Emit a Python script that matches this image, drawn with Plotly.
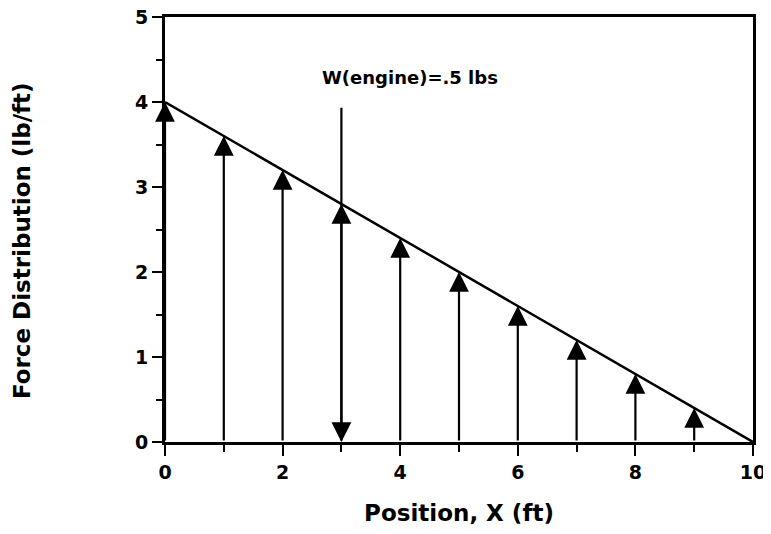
import plotly.graph_objects as go

# distributed lift along the wing, lb/ft
positions = [0, 1, 2, 3, 4, 5, 6, 7, 8, 9]
forces = [4.0, 3.6, 3.2, 2.8, 2.4, 2.0, 1.6, 1.2, 0.8, 0.4]
line_x = [0, 10]
line_y = [4, 0]

# engine weight point load
engine_x = 3
engine_top = 3.95
engine_label = "W(engine)=.5 lbs"
label_x = 4.17
label_y = 4.29

fig = go.Figure()

fig.add_trace(go.Scatter(
    x=line_x, y=line_y, mode="lines",
    line=dict(color="black", width=2.5),
    showlegend=False, hoverinfo="skip",
))

# upward force arrows
for px, f in zip(positions, forces):
    fig.add_annotation(
        x=px, y=f, ax=px, ay=0,
        xref="x", yref="y", axref="x", ayref="y",
        showarrow=True, arrowhead=2, arrowsize=1.8, arrowwidth=2.2,
        arrowcolor="black", text="",
    )

# engine weight arrow (pointing down)
fig.add_annotation(
    x=engine_x, y=0, ax=engine_x, ay=engine_top,
    xref="x", yref="y", axref="x", ayref="y",
    showarrow=True, arrowhead=2, arrowsize=1.8, arrowwidth=2.2,
    arrowcolor="black", text="",
)
fig.add_annotation(
    x=label_x, y=label_y, xref="x", yref="y",
    text="<b>" + engine_label + "</b>", showarrow=False,
    font=dict(family="DejaVu Sans", size=18, color="black"),
)

# y title placed by hand (sits a little below the plot centre in the original)
fig.add_annotation(
    x=-0.243, y=0.473, xref="paper", yref="paper",
    text="<b>Force Distribution (lb/ft)</b>", textangle=-90, showarrow=False,
    xanchor="center", yanchor="middle",
    font=dict(family="DejaVu Sans", size=23, color="black"),
)

# page body adds an 8px offset, so the figure is smaller than the window
fig.update_layout(
    width=763, height=518,
    margin=dict(l=157, r=18, t=9, b=84),
    plot_bgcolor="white", paper_bgcolor="white",
    font=dict(family="DejaVu Sans", color="black"),
    xaxis=dict(
        range=[0, 10], dtick=2, tick0=0, automargin=False,
        ticks="outside", ticklen=11, tickwidth=2, tickcolor="black",
        minor=dict(dtick=1, ticks="outside", ticklen=7, tickwidth=2, tickcolor="black"),
        showgrid=False, zeroline=False, ticklabeloverflow="allow",
        showline=True, linecolor="black", linewidth=3, mirror=True,
        tickfont=dict(size=19, family="DejaVu Sans", weight="bold"),
        title=dict(text="<b>Position, X (ft)</b>", font=dict(size=23), standoff=24),
    ),
    yaxis=dict(
        range=[0, 5], dtick=1, tick0=0, automargin=False,
        ticks="outside", ticklen=10, tickwidth=2, tickcolor="black",
        minor=dict(dtick=0.5, ticks="outside", ticklen=6, tickwidth=2, tickcolor="black"),
        showgrid=False, zeroline=False, ticklabeloverflow="allow",
        showline=True, linecolor="black", linewidth=3, mirror=True,
        tickfont=dict(size=19, family="DejaVu Sans", weight="bold"),
    ),
)

fig.write_html("out.html")
